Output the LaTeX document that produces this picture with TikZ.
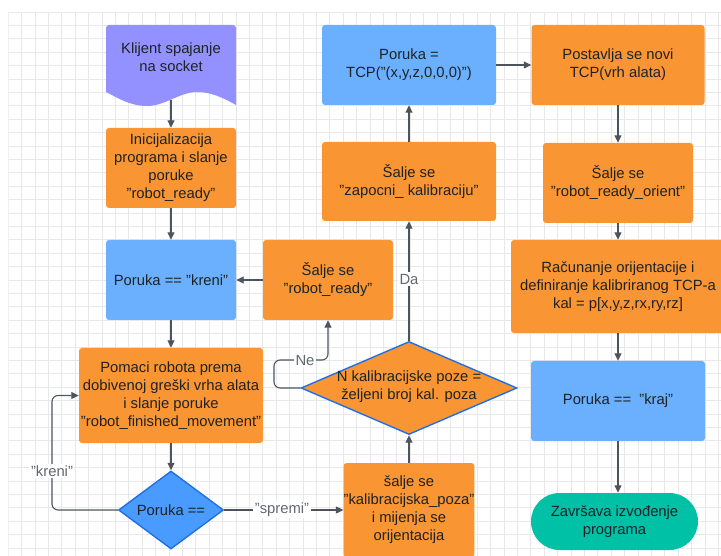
\documentclass[tikz,border=0pt]{standalone}
\usepackage{fontspec}
\setmainfont{Liberation Sans}
\usetikzlibrary{shapes.geometric,arrows.meta}
\definecolor{gridc}{HTML}{E8E8EA}
\definecolor{orangefill}{HTML}{F99533}
\definecolor{bluefill}{HTML}{6AB0FF}
\definecolor{bluedia}{HTML}{4A9BFF}
\definecolor{blueedge}{HTML}{1F6FE5}
\definecolor{docfill}{HTML}{9391FF}
\definecolor{tealfill}{HTML}{00C1A6}
\definecolor{linec}{HTML}{4D545E}
\definecolor{textc}{HTML}{1E2226}
\definecolor{labelc}{HTML}{62676E}

\begin{document}
\begin{tikzpicture}[x=1pt,y=-1pt,
  font=\fontsize{14.8}{18}\selectfont,
  box/.style={rectangle, rounded corners=3pt, text=textc, align=center, inner sep=0pt},
  proc/.style={box, fill=orangefill},
  msg/.style={box, fill=bluefill},
  dia/.style={diamond, inner sep=0pt, draw=blueedge, line width=1.4pt},
  txt/.style={text=textc, align=center, inner sep=0pt},
  conn/.style={draw=linec, line width=1.1pt, -{Triangle[length=7.5pt,width=7pt]}},
  lbl/.style={text=labelc, fill=white, inner sep=1.5pt},
]
\useasboundingbox (0,0) rectangle (721,556);

% background grid
\begin{scope}
  \clip (8.3,12) rectangle (721,556);
  \foreach \i in {0,...,53}
    \draw[gridc, line width=0.9pt] (8.3+\i*13.4,12) -- (8.3+\i*13.4,556);
  \foreach \j in {0,...,40}
    \draw[gridc, line width=0.9pt] (8.3,12+\j*13.4) -- (721,12+\j*13.4);
\end{scope}

% document shape (start)
\path[fill=docfill, rounded corners=3pt] (106,92) -- (106,25) -- (236,25) [sharp corners] -- (236,105)
  .. controls (222,97) and (210,92) .. (197,92)
  .. controls (180,92) and (165,106) .. (147,106)
  .. controls (130,106) and (118,98) .. (106,92) -- cycle;
\node[box, minimum width=130pt, minimum height=75pt] (doc) at (171,62.5) {};
\node[txt] (docT) at (171,57) {Klijent spajanje\\na socket};

% left column
\node[proc, minimum width=130pt, minimum height=80pt] (init) at (171,168)
  {Inicijalizacija\\programa i slanje\\poruke\\"robot\_ready"};
\node[msg, minimum width=130pt, minimum height=80pt] (kreni) at (171,280) {Poruka == "kreni"};
\node[proc, minimum width=184pt, minimum height=95pt] (pom) at (171,395.5)
  {Pomaci robota prema\\dobivenoj greški vrha alata\\i slanje poruke\\"robot\_finished\_movement"};
\node[dia, fill=bluedia, minimum width=105pt, minimum height=78pt] (d5) at (171,510) {};
\node[txt] (d5T) at (171,510) {Poruka ==};

% middle column
\node[proc, minimum width=130pt, minimum height=94pt] (kp) at (409,510)
  {šalje se\\"kalibracijska\_poza"\\i mijenja se\\orijentacija};
\node[dia, fill=orangefill, minimum width=216pt, minimum height=93pt] (d7) at (409,388) {};
\node[txt] (d7T) at (409,386.5) {N kalibracijske poze =\\željeni broj kal. poza};
\node[proc, minimum width=130pt, minimum height=80pt] (rr) at (328,280) {Šalje se\\"robot\_ready"};
\node[proc, minimum width=174pt, minimum height=79pt] (zap) at (409,181.5) {Šalje se\\"zapocni\_ kalibraciju"};
\node[msg, minimum width=174pt, minimum height=80pt] (tcp) at (409,65) {Poruka =\\TCP("(x,y,z,0,0,0)")};

% right column
\node[proc, minimum width=173pt, minimum height=80pt] (novi) at (618,65) {Postavlja se novi\\TCP(vrh alata)};
\node[proc, minimum width=150pt, minimum height=80pt] (ori) at (618,183) {Šalje se\\"robot\_ready\_orient"};
\node[proc, minimum width=214pt, minimum height=93pt] (calc) at (618,286.5)
  {Računanje orijentacije i\\definiranje kalibriranog TCP-a\\kal = p[x,y,z,rx,ry,rz]};
\node[msg, minimum width=174pt, minimum height=80pt] (kraj) at (618,401) {Poruka ==\ \ "kraj"};
\node[box, fill=tealfill, rounded corners=28.5pt, minimum width=167pt, minimum height=57pt] (end) at (614.5,521.5)
  {Završava izvođenje\\programa};

% connectors
\coordinate (kc) at (52,395.5);
\coordinate (ne) at (274,360);
\draw[conn] (doc.south) -- (init.north);
\draw[conn] (init.south) -- (kreni.north);
\draw[conn] (kreni.south) -- (pom.north);
\draw[conn] (pom.south) -- (d5.north);
\draw[conn, rounded corners=6pt] (d5.west) -| (kc) -- (pom.west);
\draw[conn] (d5.east) -- (kp.west |- d5.east);
\draw[conn] (kp.north) -- (d7.south);
\draw[conn] (d7.north) -- (zap.south);
\draw[conn, rounded corners=6pt] (d7.west) -| (ne) -| (rr.south);
\draw[conn] (rr.west) -- (kreni.east);
\draw[conn] (zap.north) -- (tcp.south);
\draw[conn] (tcp.east) -- (novi.west);
\draw[conn] (novi.south) -- (ori.north);
\draw[conn] (ori.south) -- (calc.north);
\draw[conn] (calc.south) -- (kraj.north);
\draw[conn] (kraj.south) -- (kraj.south |- end.north);

% connector labels
\node[lbl] (lk) at (52,471) {"kreni"};
\node[lbl] (ls) at (282,510) {"spremi"};
\node[lbl] (lda) at (409,279) {Da};
\node[lbl] (lne) at (305,360) {Ne};
\end{tikzpicture}
\end{document}
